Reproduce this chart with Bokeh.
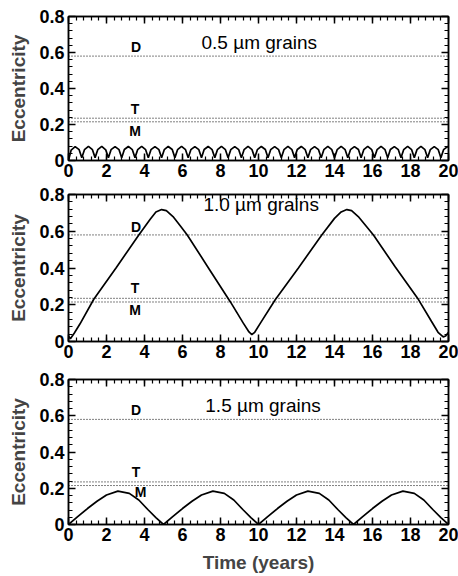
from bokeh.plotting import figure
from bokeh.layouts import column
from bokeh.models import Range1d, LinearAxis, SingleIntervalTicker, CustomLabelingPolicy
from bokeh.core.properties import value
from bokeh.embed import file_html
from bokeh.resources import INLINE

# ---------------- data ----------------
x_ticks_step = 2
y_ticks_step = 0.2

# 0.5 micron grains (fast small oscillation)
t_05 = [0.00, 0.14, 0.35, 0.56,
        0.70, 0.84, 1.05, 1.26,
        1.40, 1.54, 1.75, 1.96,
        2.10, 2.24, 2.45, 2.66,
        2.80, 2.94, 3.15, 3.36,
        3.50, 3.64, 3.85, 4.06,
        4.20, 4.34, 4.55, 4.76,
        4.90, 5.04, 5.25, 5.46,
        5.60, 5.74, 5.95, 6.16,
        6.30, 6.44, 6.65, 6.86,
        7.00, 7.14, 7.35, 7.56,
        7.70, 7.84, 8.05, 8.26,
        8.40, 8.54, 8.75, 8.96,
        9.10, 9.24, 9.45, 9.66,
        9.80, 9.94, 10.15, 10.36,
        10.50, 10.64, 10.85, 11.06,
        11.20, 11.34, 11.55, 11.76,
        11.90, 12.04, 12.25, 12.46,
        12.60, 12.74, 12.95, 13.16,
        13.30, 13.44, 13.65, 13.86,
        14.00, 14.14, 14.35, 14.56,
        14.70, 14.84, 15.05, 15.26,
        15.40, 15.54, 15.75, 15.96,
        16.10, 16.24, 16.45, 16.66,
        16.80, 16.94, 17.15, 17.36,
        17.50, 17.64, 17.85, 18.06,
        18.20, 18.34, 18.55, 18.76,
        18.90, 19.04, 19.25, 19.46,
        19.60, 19.74, 19.95, 20.00]
e_05 = [0.000, 0.058, 0.077, 0.060,
        0.015, 0.060, 0.078, 0.060,
        0.016, 0.060, 0.078, 0.059,
        0.015, 0.060, 0.077, 0.060,
        0.015, 0.061, 0.078, 0.060,
        0.016, 0.060, 0.078, 0.060,
        0.015, 0.060, 0.077, 0.060,
        0.015, 0.060, 0.078, 0.061,
        0.016, 0.060, 0.078, 0.060,
        0.015, 0.060, 0.077, 0.060,
        0.015, 0.061, 0.078, 0.060,
        0.016, 0.060, 0.078, 0.060,
        0.015, 0.060, 0.077, 0.060,
        0.015, 0.060, 0.078, 0.060,
        0.016, 0.060, 0.078, 0.061,
        0.015, 0.060, 0.077, 0.060,
        0.015, 0.060, 0.078, 0.060,
        0.016, 0.061, 0.078, 0.060,
        0.015, 0.060, 0.077, 0.060,
        0.015, 0.060, 0.078, 0.060,
        0.016, 0.060, 0.078, 0.060,
        0.015, 0.060, 0.077, 0.061,
        0.015, 0.060, 0.078, 0.060,
        0.016, 0.060, 0.078, 0.060,
        0.015, 0.061, 0.077, 0.060,
        0.015, 0.060, 0.078, 0.060,
        0.016, 0.060, 0.078, 0.060,
        0.015, 0.060, 0.077, 0.060,
        0.015, 0.060, 0.077, 0.076]

# 1.0 micron grains (large triangular-like swings)
t_10 = [0.00, 0.10, 0.30, 0.60, 1.33, 2.50, 3.70, 4.30, 4.60, 4.90, 5.15, 5.50,
        5.90, 6.25, 7.40, 8.53, 9.20, 9.50, 9.65, 9.80, 10.10, 10.88, 12.10,
        13.33, 14.00, 14.35, 14.65, 14.90, 15.25, 15.65, 16.05, 17.20, 18.42,
        19.10, 19.45, 19.72, 19.85, 20.00]
e_10 = [0.030, 0.015, 0.045, 0.095, 0.230, 0.400, 0.580, 0.665, 0.705, 0.718,
        0.712, 0.680, 0.627, 0.580, 0.395, 0.214, 0.100, 0.052, 0.038, 0.050,
        0.100, 0.227, 0.400, 0.580, 0.670, 0.705, 0.718, 0.712, 0.680, 0.630,
        0.580, 0.405, 0.228, 0.110, 0.050, 0.025, 0.030, 0.050]

# 1.5 micron grains (arches with period ~5 yr)
t_15 = [0.0, 0.5, 1.0, 1.5, 2.0, 2.6, 3.2, 3.7, 4.2, 4.6,
        5.0, 5.5, 6.0, 6.5, 7.0, 7.6, 8.2, 8.7, 9.2, 9.6,
        10.0, 10.5, 11.0, 11.5, 12.0, 12.6, 13.2, 13.7, 14.2, 14.6,
        15.0, 15.5, 16.0, 16.5, 17.0, 17.6, 18.2, 18.7, 19.2, 19.6, 20.0]
e_15 = [0.000, 0.045, 0.088, 0.128, 0.163, 0.184, 0.172, 0.135, 0.080, 0.038,
        0.000, 0.045, 0.088, 0.128, 0.163, 0.184, 0.172, 0.135, 0.080, 0.038,
        0.000, 0.045, 0.088, 0.128, 0.163, 0.184, 0.172, 0.135, 0.080, 0.038,
        0.000, 0.045, 0.088, 0.128, 0.163, 0.184, 0.172, 0.135, 0.080, 0.038,
        0.000]

# reference levels (dotted lines)
level_names = ["D", "T", "M"]
level_values = [0.58, 0.235, 0.215]
level_label_x = [[3.55, 3.5, 3.5], [3.55, 3.5, 3.5], [3.55, 3.55, 3.8]]
level_label_y = [[0.63, 0.285, 0.165], [0.625, 0.29, 0.17], [0.632, 0.289, 0.178]]

grain_labels = ["0.5 \u00b5m grains", "1.0 \u00b5m grains", "1.5 \u00b5m grains"]
grain_label_x = [7.0, 7.1, 7.2]
grain_label_y = [0.656, 0.745, 0.657]

series_t = [t_05, t_10, t_15]
series_e = [e_05, e_10, e_15]

FONT = "Liberation Sans"


def style_axis(ax, show_labels, major_ticker):
    ax.ticker = major_ticker
    ax.axis_line_color = "black"
    ax.axis_line_width = 1.5
    ax.major_tick_in = 7
    ax.major_tick_out = 0
    ax.minor_tick_in = 4
    ax.minor_tick_out = 0
    ax.major_tick_line_color = "black"
    ax.minor_tick_line_color = "black"
    ax.major_tick_line_width = 1.5
    ax.minor_tick_line_width = 1.2
    ax.major_label_text_font = FONT
    ax.major_label_text_font_style = "bold"
    ax.major_label_text_color = "black"
    if show_labels:
        ax.major_label_text_font_size = "18px"
        ax.major_label_standoff = 3
    else:
        ax.major_label_text_font_size = "0px"
        ax.major_label_standoff = 0
        ax.major_label_policy = CustomLabelingPolicy(code="return []")


def make_panel(i, height, top, bottom, xlabel):
    p = figure(width=458, height=height, x_range=Range1d(0, 20), y_range=Range1d(0, 0.8),
               output_backend="svg", toolbar_location=None,
               min_border_left=68, min_border_right=10,
               min_border_top=top, min_border_bottom=bottom)
    p.xgrid.visible = False
    p.ygrid.visible = False
    p.outline_line_color = "black"
    p.outline_line_width = 1.5
    p.background_fill_color = "white"
    p.border_fill_color = "white"

    xt = lambda: SingleIntervalTicker(interval=x_ticks_step, num_minor_ticks=5)
    yt = lambda: SingleIntervalTicker(interval=y_ticks_step, num_minor_ticks=5)

    style_axis(p.xaxis[0], True, xt())
    style_axis(p.yaxis[0], True, yt())
    p.yaxis[0].major_label_overrides = {0: "0", 0.2: "0.2", 0.4: "0.4", 0.6: "0.6", 0.8: "0.8"}
    p.yaxis[0].major_label_standoff = 4
    p.yaxis[0].axis_label = "Eccentricity"
    p.yaxis[0].axis_label_text_font = FONT
    p.yaxis[0].axis_label_text_font_style = "bold"
    p.yaxis[0].axis_label_text_font_size = "19px"
    p.yaxis[0].axis_label_standoff = 7
    if xlabel:
        p.xaxis[0].axis_label = xlabel
        p.xaxis[0].axis_label_text_font = FONT
        p.xaxis[0].axis_label_text_font_style = "bold"
        p.xaxis[0].axis_label_text_font_size = "19px"
        p.xaxis[0].axis_label_standoff = 8

    top_ax = LinearAxis()
    style_axis(top_ax, False, xt())
    p.add_layout(top_ax, "above")
    right_ax = LinearAxis()
    style_axis(right_ax, False, yt())
    p.add_layout(right_ax, "right")

    # dotted reference levels
    for lv in level_values:
        p.line([0, 20], [lv, lv], line_color="black", line_width=1,
               line_dash="1 2")

    # level labels
    p.text(level_label_x[i], level_label_y[i], text=level_names,
           text_font=value(FONT), text_font_style="bold", text_font_size="14px",
           text_align="center", text_baseline="middle", text_color="black")

    # grain label
    p.text([grain_label_x[i]], [grain_label_y[i]], text=[grain_labels[i]],
           text_font=value(FONT), text_font_size="19px",
           text_align="left", text_baseline="middle", text_color="black")

    # curve
    p.line(series_t[i], series_e[i], line_color="black", line_width=1.7)
    return p


p1 = make_panel(0, 184, 16, 24, None)
p2 = make_panel(1, 181, 10, 24, None)
p3 = make_panel(2, 211, 14, 52, "Time (years)")

layout = column(p1, p2, p3, spacing=0)
open("out.html", "w").write(file_html(layout, INLINE))
